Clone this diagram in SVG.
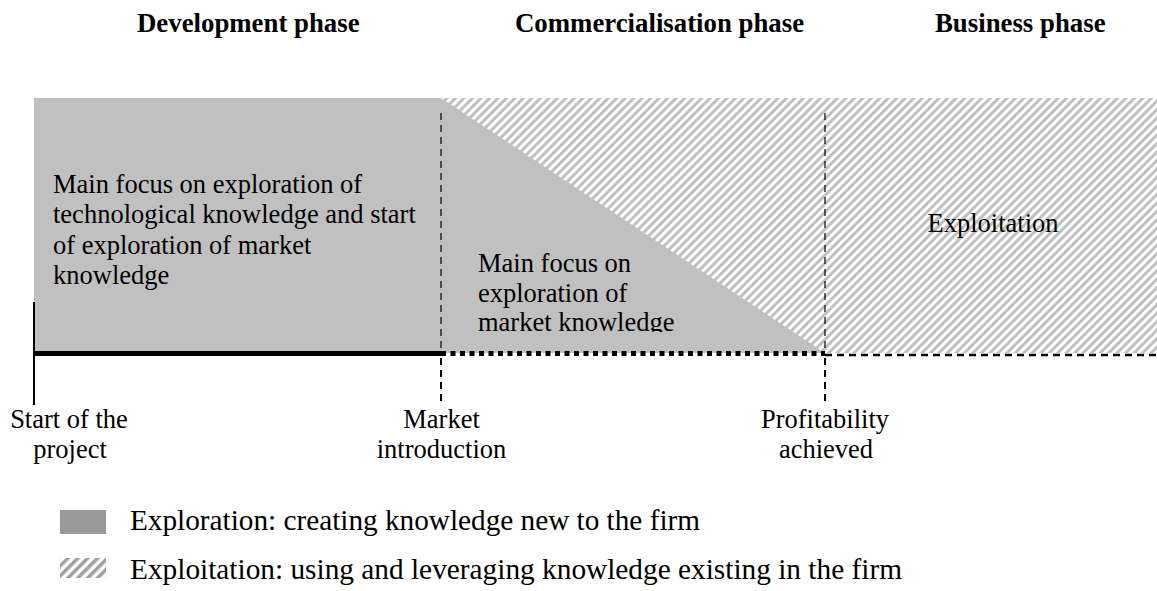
<svg xmlns="http://www.w3.org/2000/svg" width="1157" height="591" viewBox="0 0 1157 591">
<style>
text{font-family:"Liberation Serif","Times New Roman",serif;font-size:26.5px;fill:#000}
.title{font-weight:bold;font-size:26.8px}
.mid{text-anchor:middle}
.leg{font-size:28.5px}
.vdash{stroke:#000;stroke-width:1.2;stroke-dasharray:7 5;fill:none}
.vdash2{stroke:#000;stroke-width:2;stroke-dasharray:7 5;fill:none}
</style>
<defs>
<pattern id="hatch" patternUnits="userSpaceOnUse" width="6" height="6" patternTransform="rotate(45)">
<rect width="6" height="6" fill="#fff"/>
<rect x="0" y="0" width="3" height="6" fill="#c0c0c0"/>
</pattern>
<pattern id="hatchL" patternUnits="userSpaceOnUse" width="7" height="7" patternTransform="rotate(45)">
<rect width="7" height="7" fill="#fff"/>
<rect x="0" y="0" width="3.5" height="7" fill="#a0a0a0"/>
</pattern>
<clipPath id="clipMid"><rect x="440" y="200" width="400" height="132"/></clipPath>
</defs>

<g id="titles">
<text class="title" x="137" y="32">Development phase</text>
<text class="title" x="515" y="32">Commercialisation phase</text>
<text class="title" x="935" y="32">Business phase</text>
</g>

<g id="exploitation-area">
<rect x="441" y="98" width="716" height="255" fill="url(#hatch)"/>
<text class="mid" x="993" y="232">Exploitation</text>
</g>

<g id="development-area">
<rect x="34" y="98" width="407" height="255" fill="#c0c0c0"/>
<text x="53" y="193">Main focus on exploration of</text>
<text x="53" y="223">technological knowledge and start</text>
<text x="53" y="254">of exploration of market</text>
<text x="53" y="284">knowledge</text>
</g>

<g id="commercialisation-area">
<polygon points="441,98 441,353 825,353" fill="#c0c0c0"/>
<g clip-path="url(#clipMid)">
<text x="478" y="272">Main focus on</text>
<text x="478" y="302">exploration of</text>
<text x="478" y="331">market knowledge</text>
</g>
</g>

<g id="connectors">
<line x1="34" y1="302" x2="34" y2="405" stroke="#000" stroke-width="2"/>
<line x1="34" y1="353.5" x2="441" y2="353.5" stroke="#000" stroke-width="5"/>
<line x1="441" y1="353.5" x2="825" y2="353.5" stroke="#000" stroke-width="5" stroke-dasharray="5 4.5"/>
<line x1="825" y1="355" x2="1157" y2="355" stroke="#000" stroke-width="2.5" stroke-dasharray="7 5"/>
<line class="vdash" x1="441" y1="113" x2="441" y2="351"/>
<line class="vdash2" x1="441" y1="358" x2="441" y2="402"/>
<line class="vdash" x1="825" y1="113" x2="825" y2="351"/>
<line class="vdash2" x1="825" y1="358" x2="825" y2="402"/>
</g>

<g id="milestones">
<text class="mid" x="69" y="428">Start of the</text>
<text class="mid" x="70" y="458">project</text>
<text class="mid" x="441.5" y="428">Market</text>
<text class="mid" x="441.5" y="458">introduction</text>
<text class="mid" x="825" y="428">Profitability</text>
<text class="mid" x="826" y="458">achieved</text>
</g>

<g id="legend">
<rect x="60" y="510" width="46" height="24" fill="#999"/>
<text class="leg" x="130" y="530" textLength="570" lengthAdjust="spacingAndGlyphs">Exploration: creating knowledge new to the firm</text>
<rect x="60" y="558" width="46" height="20" fill="url(#hatchL)"/>
<text class="leg" x="130" y="579" textLength="772" lengthAdjust="spacingAndGlyphs">Exploitation: using and leveraging knowledge existing in the firm</text>
</g>
</svg>
